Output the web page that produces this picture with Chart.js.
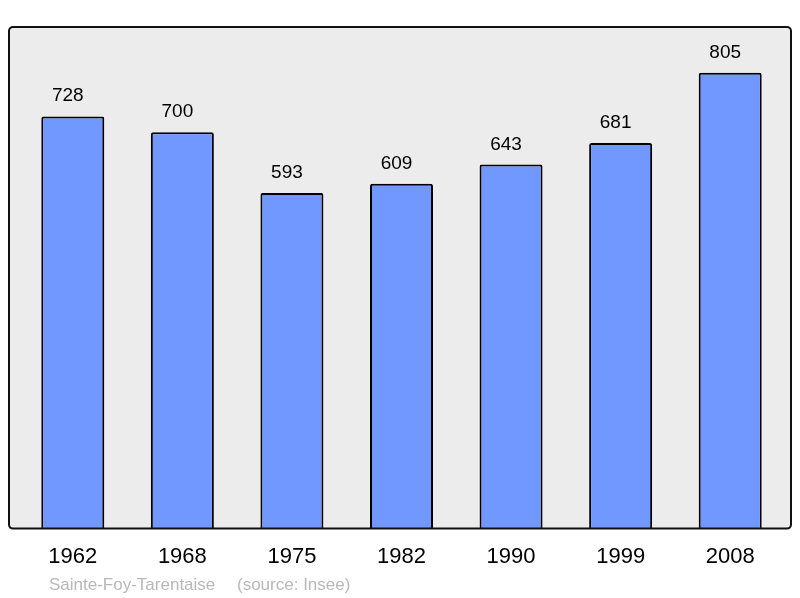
<!DOCTYPE html>
<html>
<head>
<meta charset="utf-8">
<script src="https://cdn.jsdelivr.net/npm/chart.js@4"></script>
<style>
  html, body { margin: 0; padding: 0; background: #fff; }
  #wrap { width: 800px; height: 598px; }
</style>
</head>
<body>
<div id="wrap"><canvas id="popChart" width="800" height="598"></canvas></div>
<script>
// population par recensement
var years = ['1962', '1968', '1975', '1982', '1990', '1999', '2008'];
var population = [728, 700, 593, 609, 643, 681, 805];
var yMax = 886;
var townName = 'Sainte-Foy-Tarentaise';
var sourceText = '(source: Insee)';

// fond gris + cadre
var framePlugin = {
    id: 'frame',
    beforeDatasetsDraw: function(chart) {
        var a = chart.chartArea, ctx = chart.ctx;
        ctx.save();
        ctx.beginPath();
        ctx.roundRect(a.left - 9, a.top, a.right - a.left + 15, a.bottom - a.top, 4);
        ctx.fillStyle = '#ececec';
        ctx.fill();
        ctx.restore();
    },
    afterDatasetsDraw: function(chart) {
        var a = chart.chartArea, ctx = chart.ctx;
        ctx.save();
        ctx.beginPath();
        ctx.roundRect(a.left - 9, a.top, a.right - a.left + 15, a.bottom - a.top, 4);
        ctx.lineWidth = 2;
        ctx.strokeStyle = '#111';
        ctx.stroke();

        // valeurs au-dessus des barres
        ctx.fillStyle = '#000';
        ctx.font = '19px "Liberation Sans", Arial, sans-serif';
        ctx.textAlign = 'center';
        ctx.textBaseline = 'alphabetic';
        chart.getDatasetMeta(0).data.forEach(function(bar, i) {
            ctx.fillText(population[i], bar.x - 5, bar.y - 15);
        });

        // pied
        ctx.fillStyle = '#b8b8b8';
        ctx.font = '17px "Liberation Sans", Arial, sans-serif';
        ctx.textAlign = 'left';
        ctx.fillText(townName, 49, 590);
        ctx.fillText(sourceText, 237, 590);
        ctx.restore();
    }
};

var ctx = document.getElementById('popChart').getContext('2d');
var popChart = new Chart(ctx, {
    type: 'bar',
    data: {
        labels: years,
        datasets: [{
            data: population,
            backgroundColor: '#7198ff',
            borderColor: '#000',
            borderWidth: 2,
            borderRadius: 2,
            borderSkipped: 'bottom',
            barPercentage: 0.575,
            categoryPercentage: 1
        }]
    },
    options: {
        responsive: false,
        animation: false,
        layout: { padding: { left: 18, right: 15, top: 27, bottom: 13 } },
        plugins: {
            legend: { display: false },
            tooltip: { enabled: false }
        },
        scales: {
            x: {
                grid: { display: false, drawTicks: false },
                border: { display: false },
                ticks: {
                    color: '#000',
                    padding: 15,
                    font: { size: 22, family: '"Liberation Sans", Arial, sans-serif' }
                }
            },
            y: {
                display: false,
                min: 0,
                max: yMax
            }
        }
    },
    plugins: [framePlugin]
});
</script>
</body>
</html>
